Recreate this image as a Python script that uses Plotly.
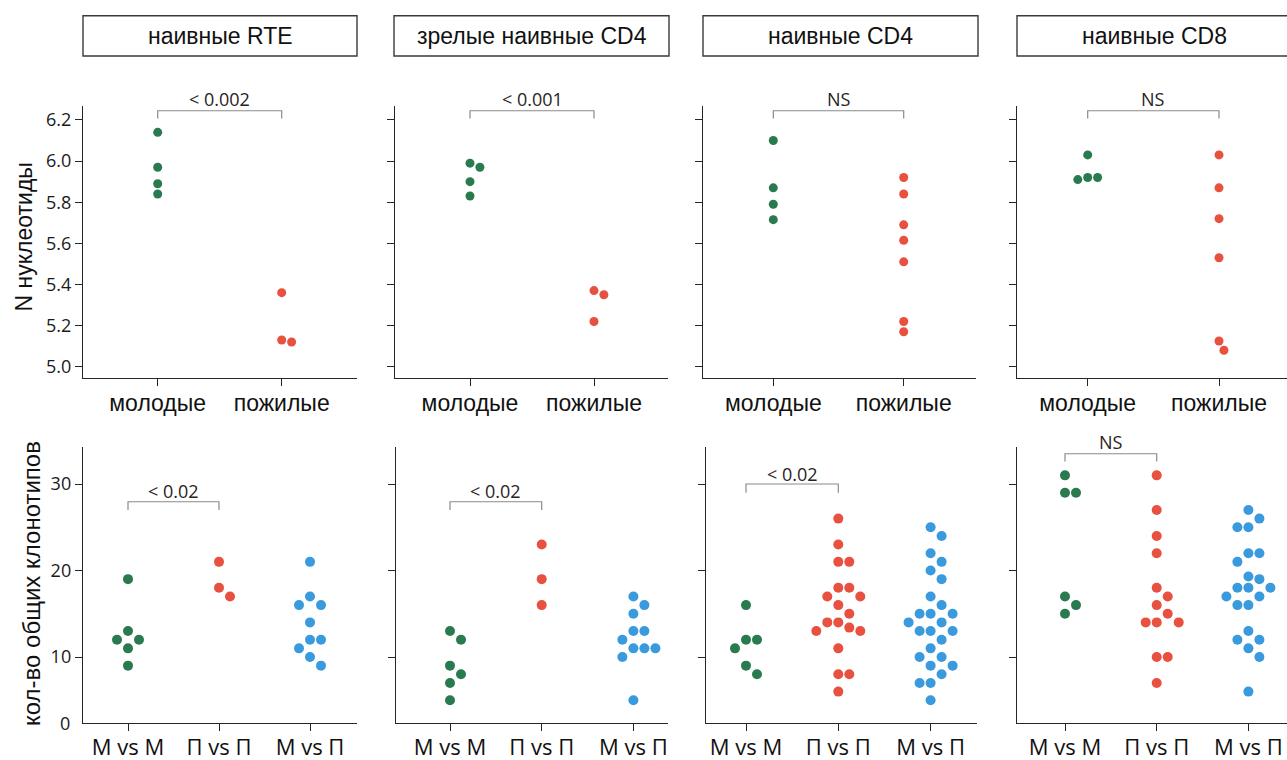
import plotly.graph_objects as go

# ---------------- data ----------------
panel_titles = ["наивные RTE", "зрелые наивные CD4", "наивные CD4", "наивные CD8"]
top_groups = ["молодые", "пожилые"]
bottom_groups = ["М vs М", "П vs П", "М vs П"]
top_pvals = ["< 0.002", "< 0.001", "NS", "NS"]
bottom_pvals = ["< 0.02", "< 0.02", "< 0.02", "NS"]
top_yticks = [5.0, 5.2, 5.4, 5.6, 5.8, 6.0, 6.2]
bottom_yticks = [10, 20, 30]
bottom_ytick_labels = ["0", "10", "20", "30"]
top_ylabel = "N нуклеотиды"
bottom_ylabel = "кол-во общих клонотипов"

top_young = [
    [6.14, 5.97, 5.89, 5.84],
    [5.99, 5.97, 5.90, 5.83],
    [6.10, 5.87, 5.79, 5.715],
    [6.03, 5.92, 5.92, 5.91],
]
top_old = [
    [5.36, 5.13, 5.12],
    [5.37, 5.35, 5.22],
    [5.92, 5.84, 5.69, 5.615, 5.51, 5.22, 5.17],
    [6.03, 5.87, 5.72, 5.53, 5.125, 5.08],
]
bottom_mm = [
    [19, 13, 12, 12, 11, 9],
    [13, 12, 9, 8, 7, 5],
    [16, 12, 12, 11, 9, 8],
    [31, 29, 29, 17, 16, 15],
]
bottom_pp = [
    [21, 18, 17],
    [23, 19, 16],
    [26, 23, 21, 21, 18, 18, 17, 17, 16, 15, 14, 14, 13.4, 13, 13, 11, 8, 8, 6],
    [31, 27, 24, 22, 18, 17, 16, 15, 14, 14, 14, 10, 10, 7],
]
bottom_mp = [
    [21, 17, 16, 16, 14, 12, 12, 11, 10, 9],
    [17, 16, 15, 13, 13, 12, 11, 11, 11, 10, 5],
    [25, 24, 22, 21, 20, 19, 17, 16, 15, 15, 15, 14, 14, 13, 13, 13, 12, 11, 10, 10, 9, 9, 8, 7, 7, 5],
    [27, 26, 25, 25, 22, 22, 21, 19.3, 19, 18, 18, 18, 17, 17, 16, 16, 13, 12, 12, 11, 10, 6],
]

# ---------------- styles / geometry (pixels) ----------------
W, H = 1287, 760
GREEN, RED, BLUE = "#2a7a50", "#e8503f", "#3a9ade"
AX_COL = "#262626"
BR_COL = "#8a8a8a"
TXT_COL = "#2a221c"
TOP_DOT, BOT_DOT = 9, 10

top_axis_px = [(83, 357), (395, 668), (703, 976), (1017, 1287)]
top_tick0 = [157.7, 470, 773.3, 1087.7]
top_step = [124, 124, 130.4, 131.3]
bot_axis_px = [(83, 357), (396, 668), (706, 977), (1017, 1287)]
bot_tick0 = [128, 450, 746, 1065]
bot_step = [91, 91.7, 92.3, 91.7]
strip_px = [(83, 357), (394, 669), (703, 978), (1017, 1291)]

top_row_px = (106, 378)
bot_row_px = (447, 723)
top_yrange = [4.945, 6.268]
bot_yrange = [2.37, 34.28]


def swarm(vals, py_per_unit, px_per_cat, diam):
    """deterministic beeswarm offsets (in category units)"""
    n = len(vals)
    order = sorted(range(n), key=lambda i: -vals[i])
    placed = []
    offs = [0.0] * n
    step = diam * 0.55
    for i in order:
        y = vals[i] * py_per_unit
        k = 0
        while True:
            cands = [0.0] if k == 0 else [k * step, -k * step]
            ok = None
            for c in cands:
                if all((c - px) ** 2 + (y - pyy) ** 2 >= (diam * 1.08) ** 2 for px, pyy in placed):
                    ok = c
                    break
            if ok is not None:
                placed.append((ok, y))
                offs[i] = ok / px_per_cat
                break
            k += 1
    return offs


fig = go.Figure()
layout = {}
shapes = []
annotations = []


def add_axes(idx, axpx, tick0, step, rowpx, yrange, groups, xfont, show_ylabels, ytickvals, yfmt, xstand):
    x0, x1 = axpx
    xr = [(x0 - tick0) / step, (x1 - tick0) / step]
    xname = "xaxis" if idx == 1 else f"xaxis{idx}"
    yname = "yaxis" if idx == 1 else f"yaxis{idx}"
    layout[xname] = dict(
        domain=[x0 / W, min(x1 / W, 1.0)], range=xr, anchor=f"y{idx}" if idx > 1 else "y",
        tickmode="array", tickvals=list(range(len(groups))), ticktext=groups,
        showline=True, linecolor=AX_COL, linewidth=1.4, ticks="outside", ticklen=7,
        tickwidth=1.4, tickcolor=AX_COL, showgrid=False, zeroline=False, automargin=False,
        tickfont=xfont, fixedrange=True, ticklabelstandoff=xstand,
    )
    layout[yname] = dict(
        domain=[1 - rowpx[1] / H, 1 - rowpx[0] / H], range=yrange,
        anchor=f"x{idx}" if idx > 1 else "x",
        tickmode="array", tickvals=ytickvals,
        ticktext=[yfmt(v) for v in ytickvals] if show_ylabels else [""] * len(ytickvals),
        showline=True, linecolor=AX_COL, linewidth=1.4, ticks="outside", ticklen=7,
        tickwidth=1.4, tickcolor=AX_COL, showgrid=False, zeroline=False, automargin=False,
        tickfont=dict(family="Open Sans", size=18, color="#1a1a1a"), fixedrange=True,
    )


def bracket(idx, yrange, ybot, ytop, ytext, text):
    xr = f"x{idx}" if idx > 1 else "x"
    yr = f"y{idx}" if idx > 1 else "y"
    shapes.append(dict(type="path", xref=xr, yref=yr,
                       path=f"M 0,{ybot} L 0,{ytop} L 1,{ytop} L 1,{ybot}",
                       line=dict(color=BR_COL, width=1.2)))
    frac = (ytext - yrange[0]) / (yrange[1] - yrange[0])
    annotations.append(dict(xref=xr, yref=f"{yr} domain", x=0.5, y=frac, text=text, showarrow=False,
                            font=dict(family="Open Sans", size=18, color=TXT_COL),
                            xanchor="center", yanchor="middle"))


top_py = (top_row_px[1] - top_row_px[0]) / (top_yrange[1] - top_yrange[0])
bot_py = (bot_row_px[1] - bot_row_px[0]) / (bot_yrange[1] - bot_yrange[0])

bot_brackets = [(27.0, 27.95, 29.2), (27.0, 27.95, 29.2), (29.0, 30.0, 31.2), (32.6, 33.5, 34.9)]

for p in range(4):
    ti = p + 1
    bi = p + 5
    add_axes(ti, top_axis_px[p], top_tick0[p], top_step[p], top_row_px, top_yrange, top_groups,
             dict(family="Liberation Sans", size=23, color="#111"), p == 0, top_yticks,
             lambda v: f"{v:.1f}", -3)
    add_axes(bi, bot_axis_px[p], bot_tick0[p], bot_step[p], bot_row_px, bot_yrange, bottom_groups,
             dict(family="Open Sans", size=22, color="#111"), p == 0, bottom_yticks,
             lambda v: f"{v:g}", -3)

    for gi, (vals, col) in enumerate([(top_young[p], GREEN), (top_old[p], RED)]):
        offs = swarm(vals, top_py, top_step[p], TOP_DOT)
        fig.add_trace(go.Scatter(
            x=[gi + o for o in offs], y=vals, mode="markers",
            marker=dict(color=col, size=TOP_DOT, line=dict(width=0)),
            xaxis=f"x{ti}" if ti > 1 else "x", yaxis=f"y{ti}" if ti > 1 else "y",
            showlegend=False, hoverinfo="y"))
    for gi, (vals, col) in enumerate([(bottom_mm[p], GREEN), (bottom_pp[p], RED), (bottom_mp[p], BLUE)]):
        offs = swarm(vals, bot_py, bot_step[p], BOT_DOT)
        fig.add_trace(go.Scatter(
            x=[gi + o for o in offs], y=vals, mode="markers",
            marker=dict(color=col, size=BOT_DOT, line=dict(width=0)),
            xaxis=f"x{bi}", yaxis=f"y{bi}", showlegend=False, hoverinfo="y"))

    bracket(ti, top_yrange, 6.207, 6.245, 6.30, top_pvals[p])
    yb, yt, ytx = bot_brackets[p]
    bracket(bi, bot_yrange, yb, yt, ytx, bottom_pvals[p])

    # strip title boxes
    sx0, sx1 = strip_px[p]
    shapes.append(dict(type="rect", xref="paper", yref="paper",
                       x0=sx0 / W, x1=sx1 / W, y0=1 - 56 / H, y1=1 - 15.7 / H,
                       line=dict(color="#3a3a3a", width=1.4), fillcolor="white"))
    annotations.append(dict(xref="paper", yref="paper", x=(sx0 + sx1) / 2 / W,
                            y=1 - 36 / H, text=panel_titles[p], showarrow=False,
                            font=dict(family="Liberation Sans", size=23, color="#111"),
                            xanchor="center", yanchor="middle"))

# "0" label at the bottom of the lower-left axis
annotations.append(dict(xref="paper", yref="y5 domain", x=72 / W, y=0,
                        text=bottom_ytick_labels[0], showarrow=False, xanchor="right", yanchor="middle",
                        font=dict(family="Open Sans", size=18, color="#1a1a1a")))

# y-axis titles
annotations.append(dict(xref="paper", yref="paper", x=23.5 / W, y=1 - 237 / H, text=top_ylabel,
                        textangle=-90, showarrow=False, xanchor="center", yanchor="middle",
                        font=dict(family="Liberation Sans", size=23, color="#111")))
annotations.append(dict(xref="paper", yref="paper", x=31 / W, y=1 - 584 / H, text=bottom_ylabel,
                        textangle=-90, showarrow=False, xanchor="center", yanchor="middle",
                        font=dict(family="Liberation Sans", size=24, color="#111")))

fig.update_layout(
    width=W, height=H, margin=dict(l=0, r=0, t=0, b=0, autoexpand=False),
    paper_bgcolor="white", plot_bgcolor="white",
    shapes=shapes, annotations=annotations, showlegend=False,
    **layout,
)
fig.write_html("out.html", config={"displayModeBar": False},
               post_script="document.body.style.margin='0';document.body.style.overflow='hidden';")
